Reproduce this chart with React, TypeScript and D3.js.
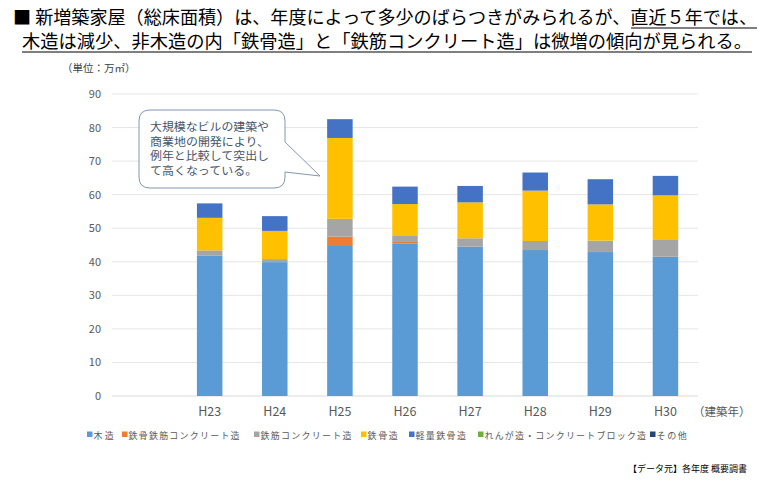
import React from "react";
import * as d3 from "d3";

const categories = ["H23", "H24", "H25", "H26", "H27", "H28", "H29", "H30"];
const seriesNames = [
  "木造",
  "鉄骨鉄筋コンクリート造",
  "鉄筋コンクリート造",
  "鉄骨造",
  "軽量鉄骨造",
  "れんが造・コンクリートブロック造",
  "その他",
];
const mokuzo = [41.8, 39.9, 44.7, 45.5, 44.5, 43.5, 42.9, 41.5];
const src = [0, 0, 2.8, 0.4, 0, 0, 0, 0];
const rc = [1.6, 0.9, 5.3, 2.0, 2.5, 2.7, 3.4, 5.0];
const steel = [9.7, 8.4, 24.1, 9.3, 10.7, 15.0, 10.8, 13.3];
const lightSteel = [4.3, 4.4, 5.6, 5.2, 4.9, 5.4, 7.5, 5.8];
const brick = [0, 0, 0, 0, 0, 0, 0, 0];
const other = [0, 0, 0, 0, 0, 0, 0, 0];
const yTicks = [0, 10, 20, 30, 40, 50, 60, 70, 80, 90];
const colors = ["#5B9BD5", "#ED7D31", "#A5A5A5", "#FFC000", "#4472C4", "#70AD47", "#264478"];
const legendX = [87, 122, 254, 361, 409, 478, 650];
const calloutLines = ["大規模なビルの建築や", "商業地の開発により、", "例年と比較して突出し", "て高くなっている。"];

const font = "'Noto Sans CJK JP', 'Noto Sans', sans-serif";

export default function App() {
  const W = 780, H = 482;
  const plotL = 112, plotR = 698, top = 94, bottom = 396;
  const bandW = (plotR - plotL) / 9;
  const x = d3.scaleBand<string>().domain(categories).range([plotL + bandW, plotR]).paddingInner(0.6).paddingOuter(0.3);
  const y = d3.scaleLinear().domain([0, 90]).range([bottom, top]);
  const seriesVals = [mokuzo, src, rc, steel, lightSteel, brick, other];
  const table = categories.map((c, i) => {
    const row: any = { cat: c };
    seriesNames.forEach((s, k) => (row[s] = seriesVals[k][i]));
    return row;
  });
  const stacked = d3.stack<any>().keys(seriesNames)(table);
  const bw = 25.5;

  return (
    <svg width={W} height={H} style={{ position: "absolute", left: 0, top: 0, background: "#fff" }} fontFamily={font}>
      {/* Title */}
      <text x={13} y={24} fontSize={18} fill="#000" textLength={744} lengthAdjust="spacingAndGlyphs">
        ■ 新増築家屋（総床面積）は、年度によって多少のばらつきがみられるが、直近５年では、
      </text>
      <line x1={631} x2={757} y1={28} y2={28} stroke="#000" strokeWidth={1.2} />
      <text x={22} y={48} fontSize={18} fill="#000" textLength={730} lengthAdjust="spacingAndGlyphs">
        木造は減少、非木造の内「鉄骨造」と「鉄筋コンクリート造」は微増の傾向が見られる。
      </text>
      <line x1={22} x2={752} y1={52} y2={52} stroke="#000" strokeWidth={1.2} />

      <text x={62} y={72} fontSize={10.5} fill="#404040">（単位：万㎡）</text>

      {/* gridlines */}
      {yTicks.map((t) => (
        <g key={t}>
          <line x1={plotL} x2={plotR} y1={y(t)} y2={y(t)} stroke={t === 0 ? "#D9D9D9" : "#E6E6E6"} strokeWidth={1} />
          <text x={101} y={y(t) + 4} fontSize={11} fill="#595959" textAnchor="end">{t}</text>
        </g>
      ))}

      {/* bars */}
      {stacked.map((layer, k) => (
        <g key={k} fill={colors[k]}>
          {layer.map((d, i) => (
            d[1] - d[0] > 0 ? (
              <rect key={i} x={(x(categories[i]) as number) + x.bandwidth() / 2 - bw / 2} y={y(d[1])} width={bw} height={y(d[0]) - y(d[1])} />
            ) : null
          ))}
        </g>
      ))}

      {/* x labels */}
      {categories.map((c) => (
        <text key={c} x={(x(c) as number) + x.bandwidth() / 2} y={416} fontSize={12.5} fill="#595959" textAnchor="middle">{c}</text>
      ))}
      <text x={693} y={416} fontSize={11.5} fill="#595959">（建築年）</text>

      {/* callout */}
      <path
        d="M 150 110 L 274 110 Q 285 110 285 121 L 285 142 L 320 176 L 285 172 L 285 177 Q 285 188 274 188 L 150 188 Q 139 188 139 177 L 139 121 Q 139 110 150 110 Z"
        fill="#fff" stroke="#8497B0" strokeWidth={1}
      />
      {calloutLines.map((l, i) => (
        <text key={i} x={150} y={131 + i * 14.6} fontSize={11} fill="#44546A" textLength={l.length * 11.9} lengthAdjust="spacingAndGlyphs">{l}</text>
      ))}

      {/* legend */}
      {seriesNames.map((s, k) => (
        <g key={s}>
          <rect x={legendX[k]} y={431.5} width={5.5} height={5.5} fill={colors[k]} />
          <text x={legendX[k] + 6.5} y={438.5} fontSize={9} fill="#595959" textLength={s.length * 10.1} lengthAdjust="spacing">{s}</text>
        </g>
      ))}

      <text x={628} y={472} fontSize={9} fill="#000">【データ元】各年度 概要調書</text>
    </svg>
  );
}
